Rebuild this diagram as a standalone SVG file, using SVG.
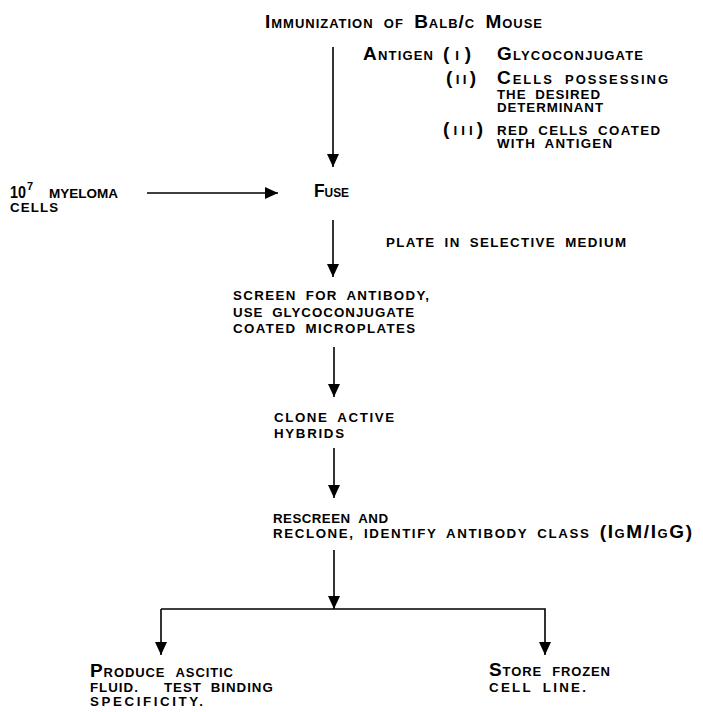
<svg xmlns="http://www.w3.org/2000/svg" width="703" height="712" viewBox="0 0 703 712">
<style>
text { font-family: "Liberation Sans", Arial, sans-serif; font-weight: bold; fill: #000; }
.sc { font-size: 19px; font-variant: small-caps; word-spacing: 4px; }
.s { font-size: 13.3px; word-spacing: 4px; }
.conn line, .conn path { stroke: #000; stroke-width: 1.6; fill: none; }
</style>
<defs>
<marker id="ah" viewBox="0 -6 13 12" refX="13" refY="0" markerWidth="13" markerHeight="12" markerUnits="userSpaceOnUse" orient="auto">
<path d="M0,-6 L13,0 L0,6 z" fill="#000"/>
</marker>
</defs>
<rect width="703" height="712" fill="#fff"/>

<g id="immunization">
<text class="sc" x="265" y="28" textLength="277" lengthAdjust="spacing">Immunization of Balb/c Mouse</text>
</g>

<g id="antigen">
<text class="sc" x="363" y="60" textLength="70" lengthAdjust="spacing">Antigen</text>
<text class="sc" x="443" y="60" textLength="28" lengthAdjust="spacing">(<tspan class="s">I</tspan>)</text>
<text class="sc" x="497" y="60" textLength="146" lengthAdjust="spacing">Glycoconjugate</text>
<text class="sc" x="446" y="84" textLength="30" lengthAdjust="spacing">(<tspan class="s">II</tspan>)</text>
<text class="sc" x="497" y="84" textLength="171" lengthAdjust="spacing">Cells possessing</text>
<text class="s" x="497" y="99" textLength="103" lengthAdjust="spacing">THE DESIRED</text>
<text class="s" x="497" y="112" textLength="106" lengthAdjust="spacing">DETERMINANT</text>
<text class="sc" x="443" y="135" textLength="40" lengthAdjust="spacing">(<tspan class="s">III</tspan>)</text>
<text class="s" x="497" y="135" textLength="163" lengthAdjust="spacing">RED CELLS COATED</text>
<text class="s" x="497" y="148" textLength="115" lengthAdjust="spacing">WITH ANTIGEN</text>
</g>

<g id="myeloma">
<text x="10" y="198" font-size="17" textLength="16" lengthAdjust="spacingAndGlyphs">10</text>
<text x="27" y="190" font-size="11">7</text>
<text class="s" x="49" y="198" textLength="69" lengthAdjust="spacingAndGlyphs">MYELOMA</text>
<text class="s" x="10" y="212" textLength="48" lengthAdjust="spacing">CELLS</text>
</g>

<g id="fuse">
<text class="sc" x="314" y="197" textLength="35" lengthAdjust="spacingAndGlyphs">Fuse</text>
</g>

<g id="plate">
<text class="s" x="386" y="247" textLength="240" lengthAdjust="spacing">PLATE IN SELECTIVE MEDIUM</text>
</g>

<g id="screen">
<text class="s" x="233" y="300" textLength="196" lengthAdjust="spacing">SCREEN FOR ANTIBODY,</text>
<text class="s" x="233" y="317" textLength="181" lengthAdjust="spacing">USE GLYCOCONJUGATE</text>
<text class="s" x="233" y="333" textLength="182" lengthAdjust="spacing">COATED MICROPLATES</text>
</g>

<g id="clone">
<text class="s" x="274" y="422" textLength="120" lengthAdjust="spacing">CLONE ACTIVE</text>
<text class="s" x="274" y="438" textLength="70" lengthAdjust="spacing">HYBRIDS</text>
</g>

<g id="rescreen">
<text class="s" x="273" y="523" textLength="115" lengthAdjust="spacing">RESCREEN AND</text>
<text class="s" x="273" y="538" textLength="419" lengthAdjust="spacing">RECLONE, IDENTIFY ANTIBODY CLASS <tspan class="sc">(IgM/IgG)</tspan></text>
</g>

<g id="ascitic">
<text class="sc" x="90" y="677" textLength="143" lengthAdjust="spacing">Produce ascitic</text>
<text class="s" y="692" letter-spacing="1"><tspan x="90">FLUID.</tspan><tspan x="164">TEST BINDING</tspan></text>
<text class="s" x="90" y="706" textLength="113" lengthAdjust="spacing">SPECIFICITY.</text>
</g>

<g id="store">
<text class="sc" x="489" y="676" textLength="121" lengthAdjust="spacing">Store frozen</text>
<text class="s" x="489" y="692" textLength="97" lengthAdjust="spacing">CELL LINE.</text>
</g>

<g id="connectors" class="conn">
<line x1="333" y1="47" x2="333" y2="167" marker-end="url(#ah)"/>
<line x1="147" y1="193" x2="278" y2="193" marker-end="url(#ah)"/>
<line x1="333" y1="220" x2="333" y2="277" marker-end="url(#ah)"/>
<line x1="334" y1="347" x2="334" y2="397" marker-end="url(#ah)"/>
<line x1="334" y1="448" x2="334" y2="498" marker-end="url(#ah)"/>
<line x1="334" y1="550" x2="334" y2="609" marker-end="url(#ah)"/>
<path d="M161,609 H545 V655" marker-end="url(#ah)"/>
<line x1="161" y1="609" x2="161" y2="655" marker-end="url(#ah)"/>
</g>
</svg>
